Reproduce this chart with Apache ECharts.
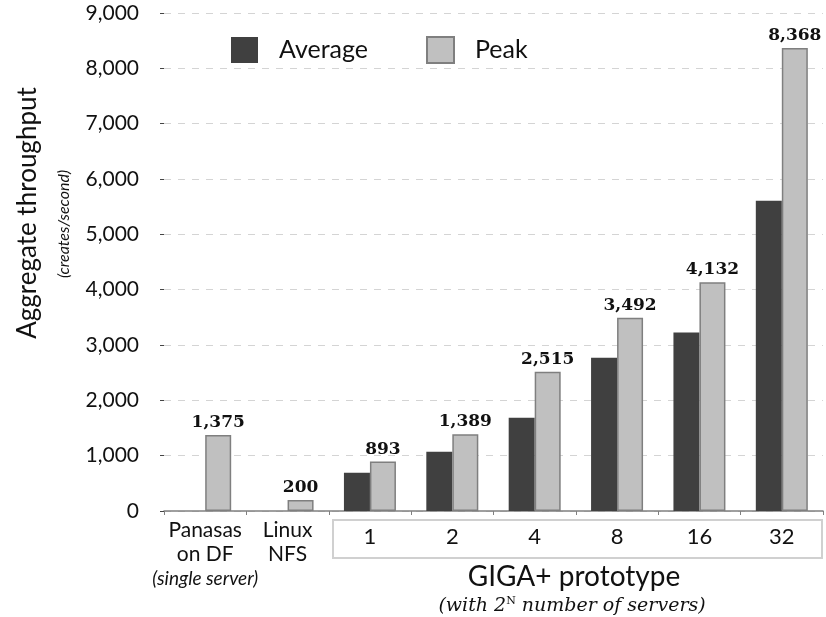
<!DOCTYPE html>
<html><head><meta charset="utf-8">
<script src="https://cdn.jsdelivr.net/npm/echarts@6/dist/echarts.min.js"></script>
<style>html,body{margin:0;padding:0;background:#fff}#c{width:826px;height:617px}</style>
</head><body><div id="c"></div>
<script>
var categories = ['Panasas', 'Linux', '1', '2', '4', '8', '16', '32'];
var averageValues = [null, null, 690, 1070, 1685, 2770, 3225, 5605];
var peakValues = [1375, 200, 893, 1389, 2515, 3492, 4132, 8368];
var yTicks = [0, 1000, 2000, 3000, 4000, 5000, 6000, 7000, 8000, 9000];

var FONT = 'Lato';
function fmt(v){ return Number(v).toLocaleString('en-US'); }

var chart = echarts.init(document.getElementById('c'));
chart.setOption({
  animation: false,
  backgroundColor: '#fff',
  grid: {left: 164, right: 3, top: 13, bottom: 106},
  legend: {
    left: 226, top: 31, itemWidth: 27, itemHeight: 26, itemGap: 58,
    icon: 'rect',
    textStyle: {fontFamily: FONT, fontSize: 25, color: '#111', padding: [0,0,0,16]},
    data: ['Average', 'Peak']
  },
  xAxis: {
    type: 'category', data: categories,
    axisLine: {lineStyle: {color: '#808080', width: 1.5}},
    axisTick: {show: true, length: 4, lineStyle: {color: '#808080'}},
    axisLabel: {
      interval: 0, margin: 7, color: '#111',
      formatter: function(v){
        if (v === 'Panasas') return '{a|Panasas}\n{a|on DF}\n{i|(single server)}';
        if (v === 'Linux') return '{a|Linux}\n{a|NFS}';
        return '{n|' + v + '}';
      },
      rich: {
        a: {fontFamily: FONT, fontSize: 21, lineHeight: 24, color: '#111'},
        i: {fontFamily: FONT, fontSize: 19, fontStyle: 'italic', lineHeight: 26, color: '#111'},
        n: {fontFamily: FONT, fontSize: 22, lineHeight: 26, color: '#111', padding: [12,0,0,0]}
      }
    }
  },
  yAxis: {
    type: 'value', min: 0, max: 9000, interval: 1000,
    axisLine: {show: false},
    axisTick: {show: true, length: 4, lineStyle: {color: '#444'}},
    axisLabel: {fontFamily: FONT, fontSize: 21, color: '#111', margin: 25, formatter: function(v){ return fmt(v); }},
    splitLine: {lineStyle: {color: '#d4d4d4', type: [7, 7], width: 1}}
  },
  series: [
    {name: 'Average', type: 'bar', data: averageValues, barWidth: 26, barGap: '0%',
     itemStyle: {color: '#404040'}},
    {name: 'Peak', type: 'bar', data: peakValues, barWidth: 26,
     itemStyle: {color: '#c0c0c0', borderColor: '#7f7f7f', borderWidth: 1.5},
     label: {show: true, position: 'top', distance: 4,
       fontFamily: 'DejaVu Serif', fontWeight: 'bold', fontSize: 17, color: '#111',
       formatter: function(p){ return fmt(p.value); }}}
  ],
  graphic: [
    {type: 'text', x: 28, y: 213, rotation: Math.PI/2,
     style: {text: 'Aggregate throughput', fontFamily: FONT, fontSize: 26, fill: '#111', align: 'center', verticalAlign: 'middle'}},
    {type: 'text', x: 64, y: 224, rotation: Math.PI/2,
     style: {text: '(creates/second)', fontFamily: FONT, fontSize: 16, fontStyle: 'italic', fill: '#111', align: 'center', verticalAlign: 'middle'}},
    {type: 'rect', shape: {x: 333, y: 520, width: 489, height: 38},
     style: {fill: 'none', stroke: '#d0d0d0', lineWidth: 2}},
    {type: 'text', x: 574, y: 577,
     style: {text: 'GIGA+ prototype', fontFamily: FONT, fontSize: 28, fill: '#111', align: 'center', verticalAlign: 'middle'}},
    {type: 'text', x: 572, y: 606,
     style: {text: '{i|(with 2}{s|N}{i| number of servers)}', align: 'center', verticalAlign: 'middle',
       rich: {
         i: {fontFamily: 'DejaVu Serif', fontSize: 19, fontStyle: 'italic', fill: '#111'},
         s: {fontFamily: 'DejaVu Serif', fontSize: 11, fill: '#111', padding: [0,0,10,0]}
       }}}
  ]
});
</script></body></html>
